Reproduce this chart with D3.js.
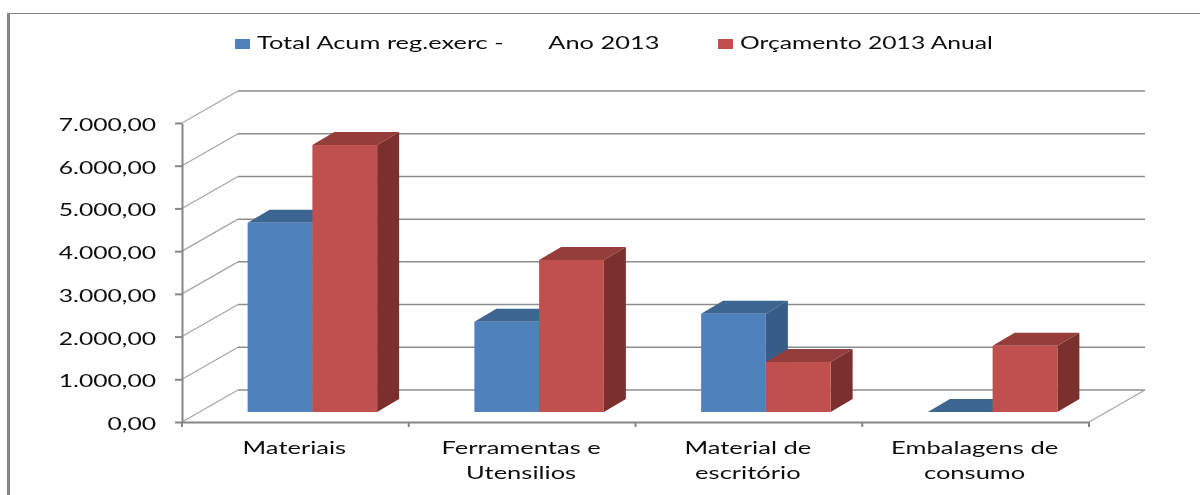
<!DOCTYPE html>
<html>
<head>
<meta charset="utf-8">
<script src="https://cdn.jsdelivr.net/npm/d3@7"></script>
<style>
  html, body { margin: 0; background: #fff; }
  svg { display: block; }
  text { font-family: Lato, sans-serif; fill: #111; white-space: pre; }
  .domain, .tick line { stroke: #868686; }
</style>
</head>
<body>
<svg id="chart"></svg>
<script>
const WIDTH = 1200,
      HEIGHT = 495;

const categories = ['Materiais', 'Ferramentas e\nUtensilios', 'Material de\nescritório', 'Embalagens de\nconsumo'];
const seriesNames = ['Total Acum reg.exerc -       Ano 2013', 'Orçamento 2013 Anual'];
const totalAcum = [4430, 2110, 2300, 0];
const orcamento = [6250, 3560, 1170, 1550];
const yTicks = [0, 1000, 2000, 3000, 4000, 5000, 6000, 7000];

const frontColors = ['#4f81bd', '#c0504d'],
      topColors = ['#3d6591', '#943d3a'],
      sideColors = ['#365c87', '#7b302e'];

// 3d offsets: back wall, front of the bars, back of the bars
const WALL = [56, -32],
      BAR_FRONT = [17, -10],
      BAR_BACK = [39, -23];

var svg = d3.select('#chart').attr('width', WIDTH).attr('height', HEIGHT);

var defs = svg.append('defs');
defs.append('filter').attr('id', 'soft')
  .append('feGaussianBlur').attr('stdDeviation', .35);

var x = d3.scaleBand().domain(categories).range([182, 1089]);
var y = d3.scaleLinear().domain([0, 7000]).range([422, 123]);
var barX = d3.scaleBand().domain([0, 1]).range([0, 129.5]);

var ptBr = d3.formatLocale({decimal: ',', thousands: '.', grouping: [3], currency: ['R$', '']});

// the source image is a horizontally stretched, soft screenshot
function stretch(sel, factor) {
  sel.each(function() {
    var len = this.getComputedTextLength();
    d3.select(this).attr('textLength', len * factor).attr('lengthAdjust', 'spacingAndGlyphs');
  }).attr('filter', 'url(#soft)');
}

// outer frame, only top and left are visible
svg.append('path').attr('d', 'M8.5,495V13.5H' + WIDTH).attr('fill', 'none').attr('stroke', '#868686');
svg.append('line').attr('x1', 8.5).attr('x2', 8.5).attr('y1', 13).attr('y2', HEIGHT)
  .attr('stroke', '#868686').attr('stroke-width', 3);

// gridlines: side wall diagonal then back wall
var grid = svg.append('g').attr('fill', 'none');
yTicks.forEach(function(t) {
  var left = x.range()[0], yy = y(t);
  grid.append('path')
    .attr('d', d3.line()([[left, yy], [left + WALL[0], yy + WALL[1]]]))
    .attr('stroke', '#a6a6a6').attr('stroke-width', 1.2);
  grid.append('path')
    .attr('d', d3.line()([[left + WALL[0], yy + WALL[1]], [x.range()[1] + WALL[0], yy + WALL[1]]]))
    .attr('stroke', '#8c8c8c').attr('stroke-width', 1.5);
});
grid.append('path')
  .attr('d', d3.line()([[x.range()[1], y(0)], [x.range()[1] + WALL[0], y(0) + WALL[1]]]))
  .attr('stroke', '#a6a6a6').attr('stroke-width', 1.2);

// bars
var values = [totalAcum, orcamento];
var bars = svg.append('g');
categories.forEach(function(c, i) {
  [0, 1].forEach(function(s) {
    var x0 = x(c) + (x.bandwidth() - barX.range()[1]) / 2 + barX(s) + BAR_FRONT[0],
        x1 = x0 + barX.bandwidth(),
        yb = y(0) + BAR_FRONT[1],
        yt = yb - (y(0) - y(values[s][i])),
        dx = BAR_BACK[0] - BAR_FRONT[0],
        dy = BAR_BACK[1] - BAR_FRONT[1];
    var g = bars.append('g');
    g.append('path').attr('fill', sideColors[s])
      .attr('d', d3.line()([[x1, yb], [x1 + dx, yb + dy], [x1 + dx, yt + dy], [x1, yt]]) + 'Z');
    g.append('path').attr('fill', topColors[s])
      .attr('d', d3.line()([[x0, yt], [x0 + dx, yt + dy], [x1 + dx, yt + dy], [x1, yt]]) + 'Z');
    g.append('rect').attr('fill', frontColors[s])
      .attr('x', x0).attr('y', yt).attr('width', x1 - x0).attr('height', yb - yt);
  });
});

// axes
var yAxis = d3.axisLeft(y).tickValues(yTicks).tickSize(7).tickSizeOuter(0).tickPadding(19)
  .tickFormat(ptBr.format(',.2f'));
var yG = svg.append('g').attr('transform', 'translate(' + x.range()[0] + ',0)').call(yAxis);
yG.selectAll('text').attr('dy', '.42em').attr('x', -26).style('font-size', '18px');
yG.selectAll('.domain, .tick line').attr('stroke-width', 2);
stretch(yG.selectAll('text'), 1.37);

var xAxis = d3.axisBottom(x).tickValues([]).tickSize(0);
var xG = svg.append('g').attr('transform', 'translate(0,' + y(0) + ')').call(xAxis);
xG.select('.domain').attr('stroke-width', 2).attr('stroke', '#9a9a9a');
xG.selectAll('.edge').data(categories.concat(['end'])).enter().append('line')
  .attr('x1', function(d, i) { return x.range()[0] + i * x.step(); })
  .attr('x2', function(d, i) { return x.range()[0] + i * x.step(); })
  .attr('y1', 0).attr('y2', 5).attr('stroke', '#868686').attr('stroke-width', 2);

var catLabels = svg.append('g');
categories.forEach(function(c) {
  c.split('\n').forEach(function(line, i) {
    var label = catLabels.append('text')
      .attr('x', x(c) + x.bandwidth() / 2 - 1)
      .attr('y', 454 + i * 25)
      .attr('text-anchor', 'middle')
      .style('font-size', '17px')
      .text(line);
    stretch(label, 1.5);
  });
});

// legend
var legend = svg.append('g');
var legendX = d3.scaleOrdinal().domain(seriesNames).range([235, 718]);
var legendStretch = [1.41, 1.37];
seriesNames.forEach(function(name, s) {
  legend.append('rect').attr('x', legendX(name)).attr('y', 39).attr('width', 15).attr('height', 10)
    .attr('fill', frontColors[s]);
  var label = legend.append('text')
    .attr('x', legendX(name) + 22).attr('y', 49)
    .style('font-size', '18px')
    .text(name);
  stretch(label, legendStretch[s]);
});
</script>
</body>
</html>
